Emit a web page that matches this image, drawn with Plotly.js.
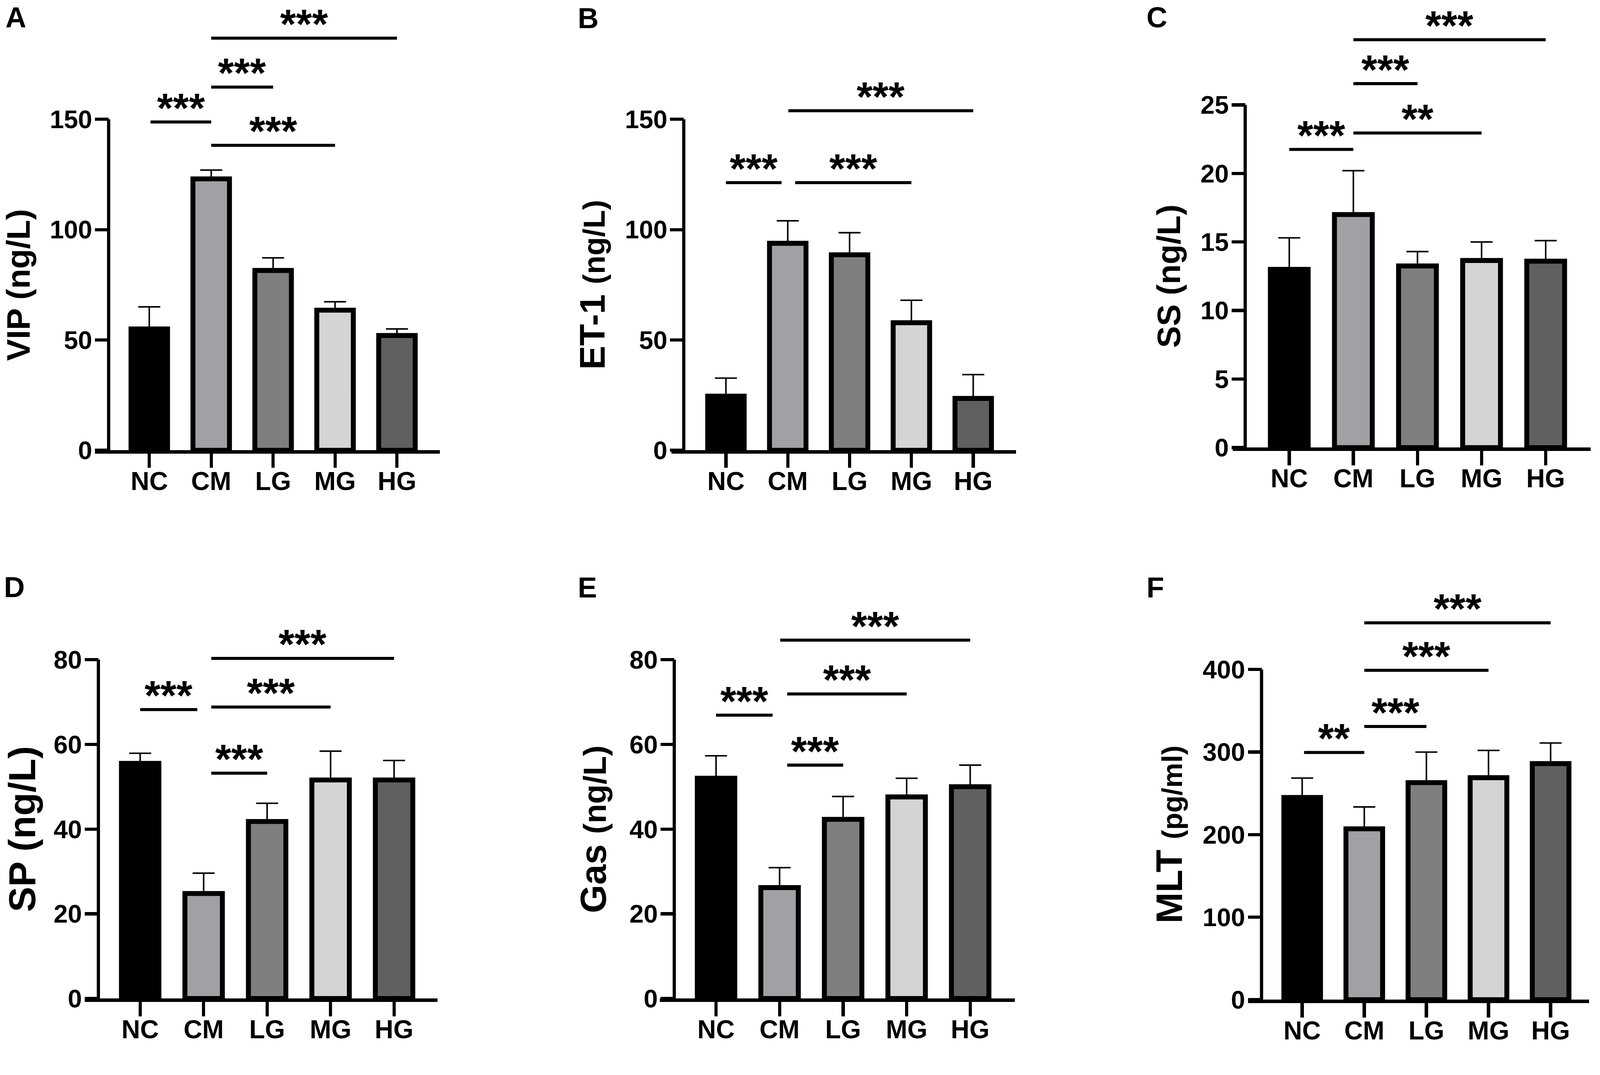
<!DOCTYPE html>
<html>
<head>
<meta charset="utf-8">
<script src="https://cdn.plot.ly/plotly-3.0.1.min.js"></script>
<style>
  html, body { margin: 0; padding: 0; background: #fff; overflow: hidden; }
</style>
</head>
<body>
<div id="chart"></div>
<script>
// reference frame the geometry below was read in
const REF_W = 4212
const REF_H = 2751

// groups and fills shared by all six panels
const groups = ['NC', 'CM', 'LG', 'MG', 'HG']
const barColors = ['#000000', '#a1a1a5', '#7f7f7f', '#d4d4d4', '#606060']

// A - VIP
const vipMean = [55, 123, 81.5, 63.5, 52]
const vipErr = [10, 4, 5.7, 3.8, 3]
const vipTicks = [0, 50, 100, 150]
const vipSigFrom = [0.02, 1, 1, 1]
const vipSigTo = [1, 2, 3, 4]
const vipSigY = [148.8, 164.6, 138.2, 186.8]
const vipSigText = ['***', '***', '***', '***']

// B - ET-1
const et1Mean = [24.5, 93.8, 88.6, 57.8, 23.5]
const et1Err = [8.2, 10.2, 10, 10.2, 10.8]
const et1Ticks = [0, 50, 100, 150]
const et1SigFrom = [0, 1.12, 1.01]
const et1SigTo = [0.9, 3, 4]
const et1SigY = [121.3, 121.3, 153.9]
const et1SigText = ['***', '***', '***']

// C - SS
const ssMean = [13.0, 17.0, 13.25, 13.65, 13.6]
const ssErr = [2.3, 3.2, 1.05, 1.35, 1.5]
const ssTicks = [0, 5, 10, 15, 20, 25]
const ssSigFrom = [0, 1, 1, 1]
const ssSigTo = [1, 3, 2, 4]
const ssSigY = [21.75, 22.95, 26.55, 29.75]
const ssSigText = ['***', '**', '***', '***']

// D - SP
const spMean = [55.5, 24.8, 41.8, 51.6, 51.6]
const spErr = [2.4, 4.8, 4.3, 6.8, 4.6]
const spTicks = [0, 20, 40, 60, 80]
const spSigFrom = [0, 1.12, 1.12, 1.12]
const spSigTo = [0.9, 2, 3, 4]
const spSigY = [68.2, 53.2, 68.8, 80.3]
const spSigText = ['***', '***', '***', '***']

// E - Gas
const gasMean = [52, 26.2, 42.3, 47.6, 50]
const gasErr = [5.3, 4.7, 5.4, 4.4, 5.1]
const gasTicks = [0, 20, 40, 60, 80]
const gasSigFrom = [0, 1.12, 1.12, 1.01]
const gasSigTo = [0.89, 2, 3, 4]
const gasSigY = [66.9, 55.1, 71.9, 84.6]
const gasSigText = ['***', '***', '***', '***']

// F - MLT
const mltMean = [245, 207, 263, 269, 286]
const mltErr = [23.5, 26.5, 37, 33, 25]
const mltTicks = [0, 100, 200, 300, 400]
const mltSigFrom = [0.03, 1, 1, 1]
const mltSigTo = [1, 2, 3, 4]
const mltSigY = [299.5, 331, 399, 456.5]
const mltSigText = ['**', '***', '***', '***']

// fit the whole figure into whatever viewport we get
const vw = document.documentElement.clientWidth || window.innerWidth || REF_W
const vh = document.documentElement.clientHeight || window.innerHeight || REF_H
const S = Math.min(vw / REF_W, vh / REF_H)
const W = Math.floor(REF_W * S)
const H = Math.floor(REF_H * S)
const px = v => v * S

const chartEl = document.getElementById('chart')
chartEl.style.width = W + 'px'
chartEl.style.height = H + 'px'

const FONT = 'Liberation Sans, Arial, Helvetica, sans-serif'
const AXIS_W = px(8.5)
const BAR_LINE = px(13)
const SIG_LINE = px(8)
const STAR_SIZE = px(108)
const STAR_LIFT = px(37)

const title = (main, unit, mainSize, unitSize) =>
  unitSize ? `${main} <span style="font-size:${px(unitSize).toFixed(1)}px">${unit}</span>` : `${main} ${unit}`

// pixel frame of every panel in the reference: y-axis x, zero line, top tick, first category, step, x-axis line ends
const panels = [
  { letter: 'A', title: title('VIP', '(ng/L)'), titleSize: 86, mean: vipMean, err: vipErr, ticks: vipTicks,
    sig: [vipSigFrom, vipSigTo, vipSigY, vipSigText],
    frame: { axisX: 286, zeroY: 1185, tickTopY: 314, c0: 393, step: 163, lineL: 250, lineR: 1158, topY: 0, titleX: 48, letterX: 12, letterY: 46 } },
  { letter: 'B', title: title('ET-1', '(ng/L)', 94, 80), titleSize: 94, mean: et1Mean, err: et1Err, ticks: et1Ticks,
    sig: [et1SigFrom, et1SigTo, et1SigY, et1SigText],
    frame: { axisX: 1800, zeroY: 1185, tickTopY: 314, c0: 1911, step: 162.75, lineL: 1768, lineR: 2675, topY: 0, titleX: 1559, letterX: 1519, letterY: 48 } },
  { letter: 'C', title: title('SS', '(ng/L)'), titleSize: 86, mean: ssMean, err: ssErr, ticks: ssTicks,
    sig: [ssSigFrom, ssSigTo, ssSigY, ssSigText],
    frame: { axisX: 3278, zeroY: 1178, tickTopY: 276, c0: 3394, step: 168.75, lineL: 3245, lineR: 4187, topY: 0, titleX: 3077, letterX: 3016, letterY: 46 } },
  { letter: 'D', title: title('SP', '(ng/L)'), titleSize: 100, mean: spMean, err: spErr, ticks: spTicks,
    sig: [spSigFrom, spSigTo, spSigY, spSigText],
    frame: { axisX: 259, zeroY: 2628, tickTopY: 1736, c0: 369, step: 167.1, lineL: 223, lineR: 1152, topY: 1420, titleX: 58, letterX: 8, letterY: 1545 } },
  { letter: 'E', title: title('Gas', '(ng/L)', 96, 84), titleSize: 96, mean: gasMean, err: gasErr, ticks: gasTicks,
    sig: [gasSigFrom, gasSigTo, gasSigY, gasSigText],
    frame: { axisX: 1775, zeroY: 2628, tickTopY: 1736, c0: 1885, step: 167.25, lineL: 1737, lineR: 2672, topY: 1420, titleX: 1562, letterX: 1519, letterY: 1546 } },
  { letter: 'F', title: title('MLT', '(pg/ml)', 98, 74), titleSize: 98, mean: mltMean, err: mltErr, ticks: mltTicks,
    sig: [mltSigFrom, mltSigTo, mltSigY, mltSigText],
    frame: { axisX: 3321, zeroY: 2631, tickTopY: 1762, c0: 3428, step: 163.5, lineL: 3285, lineR: 4183, topY: 1420, titleX: 3078, letterX: 3016, letterY: 1546 } },
]

const data = []
const shapes = []
const annotations = []
const layout = {
  width: W,
  height: H,
  margin: { l: 0, r: 0, t: 0, b: 0 },
  paper_bgcolor: '#ffffff',
  plot_bgcolor: 'rgba(0,0,0,0)',
  showlegend: false,
  font: { family: FONT, color: '#000000', weight: 700 },
}

panels.forEach((p, i) => {
  const n = i === 0 ? '' : String(i + 1)
  const xName = 'x' + n
  const yName = 'y' + n
  const f = p.frame
  const maxTick = p.ticks[p.ticks.length - 1]
  const ppu = (f.zeroY - f.tickTopY) / maxTick

  layout['xaxis' + n] = {
    type: 'category',
    domain: [f.lineL / REF_W, f.lineR / REF_W],
    range: [(f.lineL - f.c0) / f.step, (f.lineR - f.c0) / f.step],
    anchor: yName,
    showline: true,
    linecolor: '#000000',
    linewidth: AXIS_W,
    ticks: 'outside',
    ticklen: px(38),
    tickwidth: AXIS_W,
    tickcolor: '#000000',
    ticklabelstandoff: Math.round(px(-24)),
    tickfont: { family: FONT, size: px(68), color: '#000000', weight: 700 },
    showgrid: false,
    zeroline: false,
    fixedrange: true,
  }

  layout['yaxis' + n] = {
    domain: [1 - f.zeroY / REF_H, 1 - f.topY / REF_H],
    range: [0, (f.zeroY - f.topY) / ppu],
    anchor: 'free',
    position: f.axisX / REF_W,
    tickmode: 'array',
    tickvals: p.ticks,
    ticktext: p.ticks.map(String),
    ticks: 'outside',
    ticklen: px(36),
    tickwidth: AXIS_W,
    tickcolor: '#000000',
    ticklabelstandoff: Math.round(px(-6)),
    tickfont: { family: FONT, size: px(67), color: '#000000', weight: 700 },
    showline: false,
    showgrid: false,
    zeroline: false,
    fixedrange: true,
  }

  data.push({
    type: 'bar',
    x: groups,
    y: p.mean,
    xaxis: xName,
    yaxis: yName,
    width: 0.59,
    marker: {
      color: barColors,
      line: { color: '#000000', width: BAR_LINE },
    },
    error_y: {
      type: 'data',
      symmetric: false,
      array: p.err,
      arrayminus: p.err.map(() => 0),
      color: '#000000',
      thickness: px(4),
      width: px(29),
    },
    hoverinfo: 'skip',
  })

  // y axis line stops at the top tick, like the original
  shapes.push({
    type: 'line',
    xref: 'paper',
    yref: yName,
    x0: f.axisX / REF_W,
    x1: f.axisX / REF_W,
    y0: 0,
    y1: maxTick,
    line: { color: '#000000', width: AXIS_W },
  })

  const [from, to, level, text] = p.sig
  level.forEach((yv, k) => {
    shapes.push({
      type: 'line',
      xref: xName,
      yref: yName,
      x0: from[k],
      x1: to[k],
      y0: yv,
      y1: yv,
      line: { color: '#000000', width: SIG_LINE },
    })
    annotations.push({
      xref: xName,
      yref: yName,
      x: (from[k] + to[k]) / 2,
      y: yv,
      yshift: STAR_LIFT,
      xanchor: 'center',
      yanchor: 'middle',
      borderpad: 0,
      text: text[k],
      showarrow: false,
      font: { family: FONT, size: STAR_SIZE, color: '#000000', weight: 700 },
    })
  })

  annotations.push({
    xref: 'paper',
    yref: 'paper',
    x: f.titleX / REF_W,
    y: 1 - (f.zeroY + f.tickTopY) / 2 / REF_H,
    xanchor: 'center',
    yanchor: 'middle',
    textangle: -90,
    text: p.title,
    showarrow: false,
    font: { family: FONT, size: px(p.titleSize), color: '#000000', weight: 700 },
  })

  annotations.push({
    xref: 'paper',
    yref: 'paper',
    x: f.letterX / REF_W,
    y: 1 - f.letterY / REF_H,
    xanchor: 'left',
    yanchor: 'middle',
    text: p.letter,
    showarrow: false,
    font: { family: FONT, size: px(76), color: '#000000', weight: 700 },
  })
})

layout.shapes = shapes
layout.annotations = annotations

Plotly.newPlot(chartEl, data, layout, {
  staticPlot: true,
  displayModeBar: false,
  responsive: false,
})
</script>
</body>
</html>
